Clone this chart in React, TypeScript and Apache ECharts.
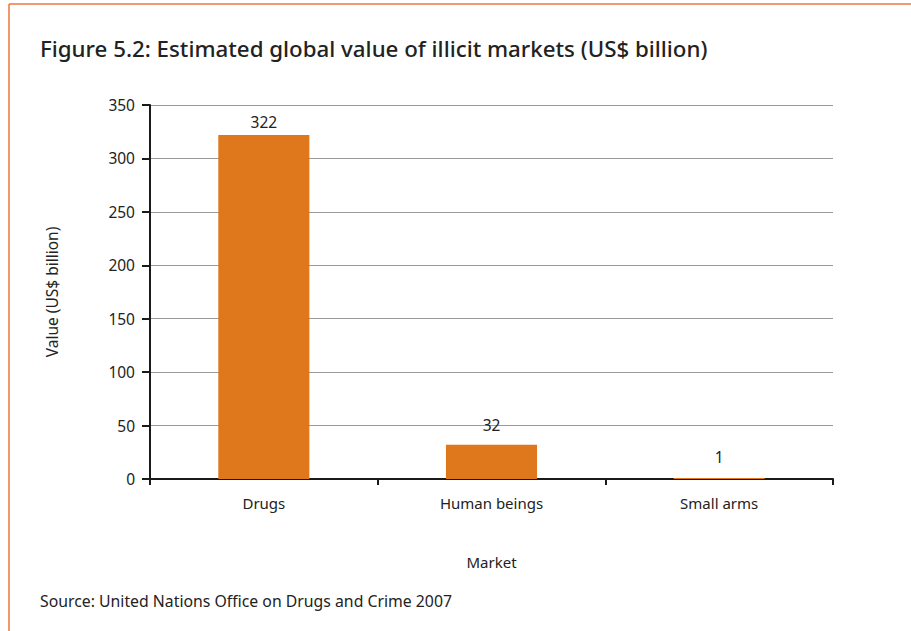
import React, { useEffect, useRef } from "react";
import * as echarts from "echarts";

const categories = ["Drugs", "Human beings", "Small arms"];
const values = [322, 32, 1];
const labelGaps = [5, 12, 13];
const yTicks = { min: 0, max: 350, interval: 50 };
const titleText = "Figure 5.2: Estimated global value of illicit markets (US$ billion)";
const sourceText = "Source: United Nations Office on Drugs and Crime 2007";
const yName = "Value (US$ billion)";
const xName = "Market";

const FONT = "Noto Sans";
const TXT = "#222222";

export default function App() {
  const ref = useRef<HTMLDivElement>(null);
  useEffect(() => {
    if (!ref.current) return;
    const chart = echarts.init(ref.current, undefined, { renderer: "svg" });
    chart.setOption({
      animation: false,
      backgroundColor: "#ffffff",
      textStyle: { fontFamily: FONT },
      grid: { left: 150, right: 78, top: 105, bottom: 152, containLabel: false },
      graphic: [
        { type: "line", shape: { x1: 9, y1: 4, x2: 911, y2: 4 }, style: { stroke: "#e8783a", lineWidth: 1.5 } },
        { type: "line", shape: { x1: 9, y1: 4, x2: 9, y2: 631 }, style: { stroke: "#e8783a", lineWidth: 1.5 } },
        { type: "text", left: 40, top: 37, style: { text: titleText, fontFamily: FONT, fontSize: 22.3, fontWeight: 500, fill: TXT } },
        { type: "text", left: 40, top: 593, style: { text: sourceText, fontFamily: FONT, fontSize: 15.8, fill: TXT } },
      ],
      xAxis: {
        type: "category",
        data: categories,
        boundaryGap: true,
        name: xName,
        nameLocation: "middle",
        nameGap: 75,
        nameTextStyle: { fontSize: 15, color: TXT, fontFamily: FONT },
        axisLine: { show: true, lineStyle: { color: "#1a1a1a", width: 2 } },
        axisTick: { show: true, length: 6, lineStyle: { color: "#1a1a1a", width: 2 } },
        axisLabel: { fontSize: 15, color: TXT, margin: 16, fontFamily: FONT },
        splitLine: { show: false },
      },
      yAxis: {
        type: "value",
        min: yTicks.min,
        max: yTicks.max,
        interval: yTicks.interval,
        name: yName,
        nameLocation: "middle",
        nameGap: 90,
        nameRotate: 90,
        nameTextStyle: { fontSize: 15.5, color: TXT, fontFamily: FONT },
        axisLine: { show: true, lineStyle: { color: "#1a1a1a", width: 2 } },
        axisTick: { show: true, length: 8, lineStyle: { color: "#1a1a1a", width: 2 } },
        axisLabel: { fontSize: 15.5, color: TXT, margin: 15, fontFamily: FONT },
        splitLine: { show: true, lineStyle: { color: "#9a9a9a", width: 1 } },
      },
      series: [
        {
          type: "bar",
          data: values.map((v, i) => ({ value: v, label: { distance: labelGaps[i] } })),
          barWidth: "40%",
          itemStyle: { color: "#df781c" },
          label: { show: true, position: "top", fontSize: 15.5, color: TXT, fontFamily: FONT },
        },
      ],
    });
    return () => chart.dispose();
  }, []);
  return <div ref={ref} style={{ position: "fixed", left: 0, top: 0, width: 911, height: 631 }} />;
}
